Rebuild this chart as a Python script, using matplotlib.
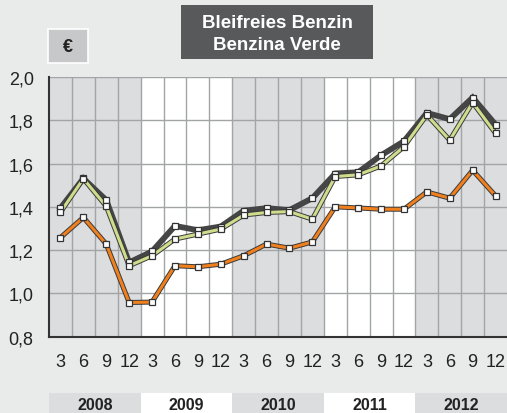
import numpy as np
import matplotlib
matplotlib.use('Agg')
import matplotlib.pyplot as plt
import matplotlib.patheffects as pe
from matplotlib.patches import Rectangle
from matplotlib.transforms import blended_transform_factory

plt.rcParams['font.family'] = ['Liberation Sans', 'DejaVu Sans']

# quarterly months and years
months = ['3', '6', '9', '12'] * 5
years = ['2008', '2009', '2010', '2011', '2012']

# price series (EUR / litre)
dark = [1.394, 1.531, 1.431, 1.143, 1.194, 1.312, 1.292, 1.309, 1.382, 1.394,
        1.385, 1.440, 1.554, 1.560, 1.638, 1.703, 1.834, 1.805, 1.905, 1.780]
green = [1.375, 1.530, 1.403, 1.128, 1.174, 1.251, 1.274, 1.297, 1.362, 1.374,
         1.378, 1.343, 1.540, 1.548, 1.589, 1.678, 1.825, 1.708, 1.882, 1.740]
orange = [1.258, 1.351, 1.228, 0.958, 0.960, 1.128, 1.123, 1.135, 1.174, 1.228,
          1.209, 1.238, 1.400, 1.395, 1.389, 1.389, 1.469, 1.440, 1.569, 1.451]

bg = '#e9eaea'
shade = '#dcdddf'

fig = plt.figure(figsize=(5.07, 4.14), dpi=100, facecolor=bg)
ax = fig.add_axes([49 / 507, (414 - 337.7) / 414, 1 - 49 / 507, (337.7 - 78) / 414])
ax.set_facecolor('white')

x = np.arange(len(months))
ax.set_xlim(-0.5, len(months) - 0.5)
ax.set_ylim(0.8, 2.0)

# year shading
for i in range(len(years)):
    if i % 2 == 0:
        ax.axvspan(i * 4 - 0.5, i * 4 + 3.5, color=shade, zorder=0, lw=0)

# grid
for b in np.arange(0.5, len(months) - 0.5, 1):
    ax.axvline(b, color='#a3a4a6', lw=1, zorder=1)
for yv in [1.0, 1.2, 1.4, 1.6, 1.8, 2.0]:
    ax.axhline(yv, color='#a3a4a6', lw=1, zorder=1)

outline = [pe.Stroke(linewidth=3.6, foreground='#3a3a3a'), pe.Normal()]
mk = dict(ls='none', marker='s', ms=5, mfc='white', mec='#333333', mew=0.9)

ax.plot(x, dark, color='#454545', lw=4.2, zorder=3, solid_joinstyle='miter')
ax.plot(x, green, color='#cfdc8c', lw=2.2, zorder=4, path_effects=outline)
ax.plot(x, orange, color='#f07f1e', lw=2.2, zorder=4, path_effects=outline)
for ser in (dark, green, orange):
    ax.plot(x, ser, zorder=5, **mk)

for s in ['top', 'right']:
    ax.spines[s].set_visible(False)
ax.spines['left'].set_color('#333333')
ax.spines['bottom'].set_color('#333333')
ax.spines['left'].set_linewidth(1.5)
ax.spines['bottom'].set_linewidth(1.5)

ax.set_xticks(x)
ax.set_xticklabels(months)
ax.set_yticks([0.8, 1.0, 1.2, 1.4, 1.6, 1.8, 2.0])
ax.set_yticklabels(['0,8', '1,0', '1,2', '1,4', '1,6', '1,8', '2,0'])
ax.tick_params(axis='x', length=0, pad=12, labelsize=13, colors='#222222')
ax.tick_params(axis='y', length=0, pad=11, labelsize=13, colors='#222222')

# year band below the axis
tr = blended_transform_factory(ax.transData, fig.transFigure)
for i, yr in enumerate(years):
    fc = shade if i % 2 == 0 else 'white'
    fig.patches.append(Rectangle((i * 4 - 0.5, 0), 4, 20 / 414, transform=tr,
                                 facecolor=fc, edgecolor='none'))
    fig.text(i * 4 + 1.5, 8 / 414, yr, transform=tr, ha='center', va='center',
             fontsize=11.5, fontweight='bold', color='#222222')

# title box
fig.patches.append(Rectangle((181 / 507, 1 - 60 / 414), 192 / 507, 54 / 414,
                             transform=fig.transFigure, facecolor='#58595b',
                             edgecolor='none'))
fig.text(277 / 507, 1 - 24 / 414, 'Bleifreies Benzin', ha='center', va='center',
         fontsize=13.5, fontweight='bold', color='white')
fig.text(277 / 507, 1 - 45 / 414, 'Benzina Verde', ha='center', va='center',
         fontsize=13.5, fontweight='bold', color='white')

# euro box
fig.patches.append(Rectangle((48 / 507, 1 - 64 / 414), 40 / 507, 34 / 414,
                             transform=fig.transFigure, facecolor='#c7c8ca',
                             edgecolor='white', lw=1.2))
fig.text(68 / 507, 1 - 47 / 414, '€', ha='center', va='center',
         fontsize=13, fontweight='bold', color='#222222')

fig.savefig('out.png', dpi=100, facecolor=bg)
